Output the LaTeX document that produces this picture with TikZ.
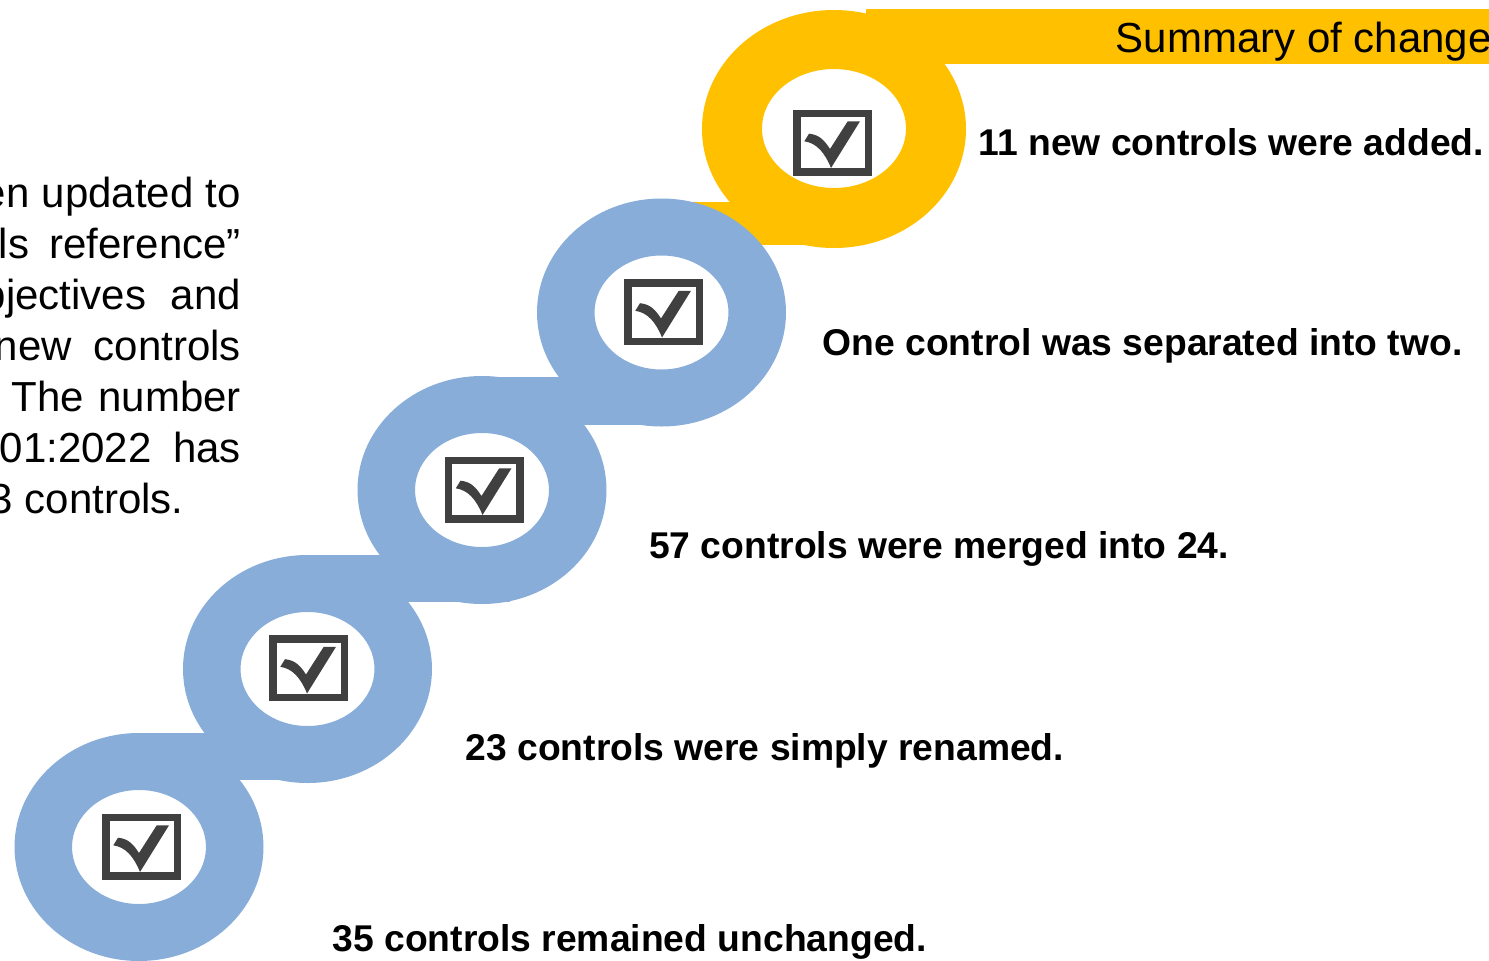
\documentclass[tikz,border=0pt]{standalone}
\usepackage{fontspec}
\setmainfont{Liberation Sans}
\definecolor{ringgold}{RGB}{255,192,0}
\definecolor{ringblue}{RGB}{137,173,217}
\definecolor{boxgray}{RGB}{64,64,64}

\begin{document}
\begin{tikzpicture}[line cap=round,
  lbl/.style={font=\fontsize{10.6}{12}\selectfont\bfseries,inner sep=0pt,anchor=base west},
  para/.style={font=\fontsize{11.95}{14}\selectfont,inner sep=0pt,anchor=base east},
  chkbox/.pic={
    \draw[boxgray,line width=0.075cm,line cap=butt] (-0.3575,-0.2925) rectangle (0.3575,0.2925);
    \fill[boxgray] (-0.235,0.088) -- (-0.282,0.012) .. controls (-0.158,-0.005) and (-0.075,-0.105) .. (-0.015,-0.255) -- (0.275,0.212) -- (0.152,0.212) -- (-0.025,-0.065) .. controls (-0.075,0.012) and (-0.125,0.078) .. (-0.235,0.088) -- cycle;
  }]
\useasboundingbox (0,0) rectangle (14.89,9.60);
\fill[ringgold] (8.66,8.96) rectangle (14.89,9.51);
\fill[ringgold] (6.62,7.15) rectangle (8.60,7.58);
\fill[ringgold,even odd rule] (8.34,8.31) ellipse [x radius=1.32,y radius=1.19] (8.34,8.315) ellipse [x radius=0.72,y radius=0.595];
\fill[ringblue] (4.82,5.35) rectangle (6.70,5.83);
\fill[ringblue] (3.07,3.58) rectangle (5.10,4.05);
\fill[ringblue] (1.39,1.80) rectangle (3.35,2.27);
\foreach \x/\y in {6.615/6.475,4.82/4.70,3.075/2.91,1.39/1.13}
  \fill[ringblue,even odd rule] (\x,\y) ellipse [x radius=1.245,y radius=1.14] (\x,\y) ellipse [x radius=0.67,y radius=0.57];
\foreach \x/\y in {8.325/8.175,6.635/6.48,4.84/4.705,3.085/2.92,1.415/1.135}
  \pic at (\x,\y) {chkbox};
\node[para,anchor=base west] (title) at (11.15,9.08) {Summary of change};
\node[lbl] (added) at (9.78,8.05) {11 new controls were added.};
\node[lbl] (split) at (8.22,6.05) {One control was separated into two.};
\node[lbl] (merged) at (6.485,4.02) {57 controls were merged into 24.};
\node[lbl] (renamed) at (4.65,2.00) {23 controls were simply renamed.};
\node[lbl] (kept) at (3.32,0.09) {35 controls remained unchanged.};
\node[para] (p1) at (2.415,7.53) {\makebox[2.58cm][s]{en updated to}};
\node[para] (p2) at (2.415,7.02) {\makebox[2.42cm][s]{ls reference”}};
\node[para] (p3) at (2.415,6.51) {\makebox[2.58cm][s]{bjectives and}};
\node[para] (p4) at (2.415,6.00) {\makebox[2.46cm][s]{new controls}};
\node[para] (p5) at (2.415,5.49) {\makebox[2.29cm][s]{The number}};
\node[para] (p6) at (2.415,4.98) {\makebox[2.41cm][s]{01:2022 has}};
\node[para,anchor=base west] (p7) at (-0.11,4.47) {3 controls.};
\end{tikzpicture}
\end{document}
